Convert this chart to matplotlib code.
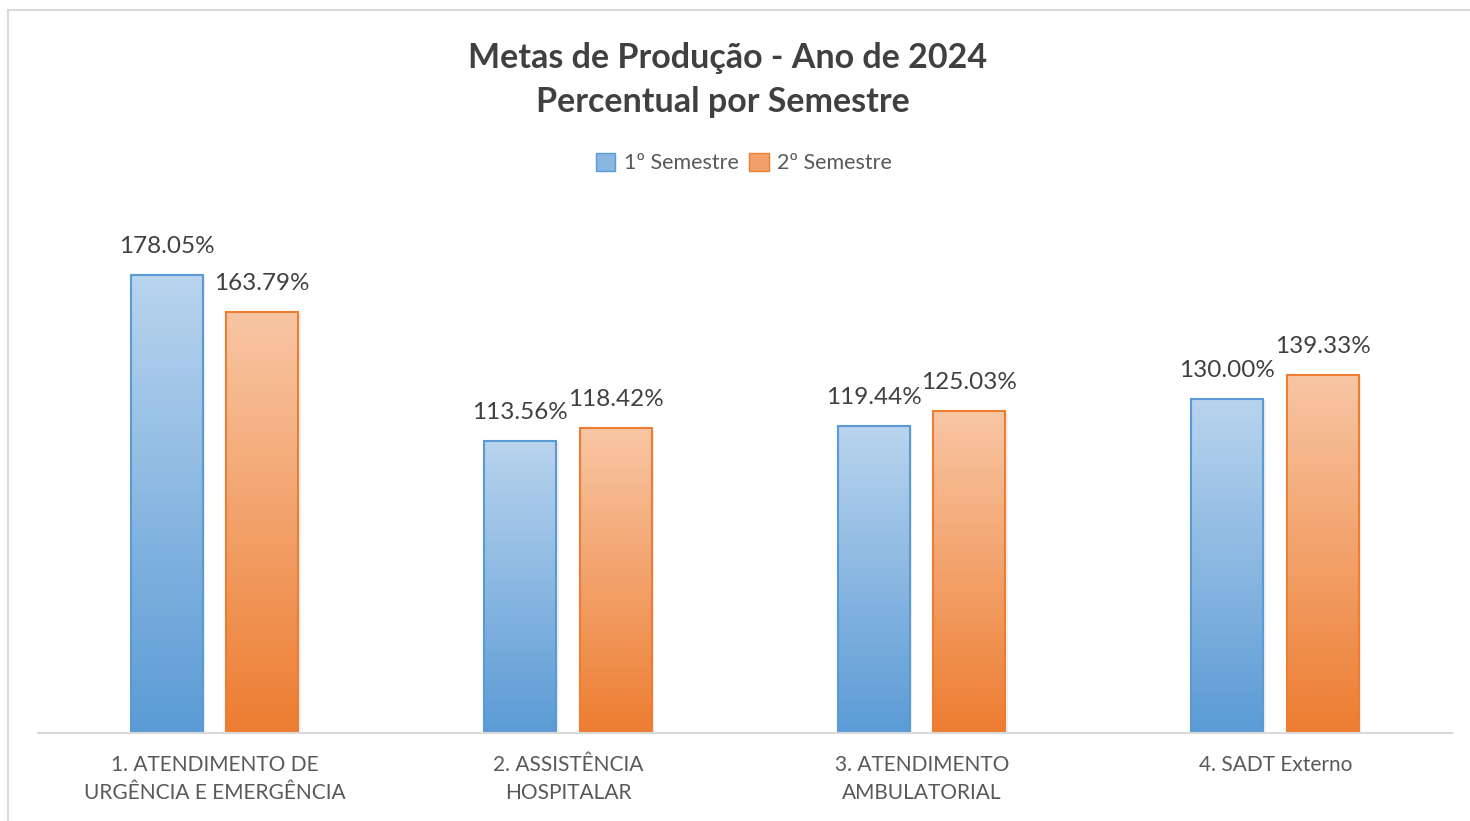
import numpy as np
import matplotlib.pyplot as plt
from matplotlib.colors import LinearSegmentedColormap
from matplotlib.patches import Rectangle

categories = ["1. ATENDIMENTO DE\nURGÊNCIA E EMERGÊNCIA", "2. ASSISTÊNCIA\nHOSPITALAR",
              "3. ATENDIMENTO\nAMBULATORIAL", "4. SADT Externo"]
sem1 = [178.05, 113.56, 119.44, 130.00]
sem2 = [163.79, 118.42, 125.03, 139.33]
series_names = ["1º Semestre", "2º Semestre"]

plt.rcParams['font.family'] = ['Lato', 'DejaVu Sans']

fig = plt.figure(figsize=(14.7, 8.21), dpi=100)
W, H = 1470, 821

# light frame around the chart
fig.patches.append(Rectangle((8 / W, -0.05), 1.1, (821 - 10) / H + 0.05, transform=fig.transFigure,
                             fill=False, edgecolor='#d9d9d9', linewidth=1.5))

ax = fig.add_axes([38 / W, 88 / H, 1414 / W, 514.4 / H])

blue_cm = LinearSegmentedColormap.from_list('b', ['#5b9bd5', '#b9d4ee'])
orange_cm = LinearSegmentedColormap.from_list('o', ['#ed7d31', '#f8c6a4'])
grad = np.linspace(0, 1, 256).reshape(-1, 1)

bw = 0.2037
offs = [-0.1358, 0.1344]
for vals, off, cm, ec in [(sem1, offs[0], blue_cm, '#5b9bd5'), (sem2, offs[1], orange_cm, '#ed7d31')]:
    x = np.arange(len(vals)) + off
    bars = ax.bar(x, vals, width=bw, facecolor='none', edgecolor=ec, linewidth=1.5, zorder=3)
    for b, v in zip(bars, vals):
        x0 = b.get_x()
        # soft shadow
        ax.bar(x0 + bw / 2 + 0.004, v, width=bw + 0.006, bottom=-0.6, color='#000000', alpha=0.06,
               linewidth=0, zorder=1)
        ax.imshow(grad, extent=[x0, x0 + bw, 0, v], origin='lower', aspect='auto', cmap=cm, zorder=2)
        ax.text(x0 + bw / 2, v + 7, f"{v:.2f}%", ha='center', va='bottom', fontsize=17.5, color='#404040')
ax.set_xlim(-0.5, 3.5)
ax.set_ylim(0, 200)

for s in ['top', 'right', 'left']:
    ax.spines[s].set_visible(False)
ax.spines['bottom'].set_color('#d9d9d9')
ax.spines['bottom'].set_linewidth(1.5)
ax.spines['bottom'].set_zorder(4)
ax.set_yticks([])
ax.set_xticks(range(len(categories)))
ax.set_xticklabels(categories, fontsize=15, color='#595959', linespacing=1.5)
ax.tick_params(axis='x', length=0, pad=16)

fig.text(728 / W, 1 - 58 / H, "Metas de Produção - Ano de 2024", ha='center', va='center',
         fontsize=24.5, fontweight='bold', color='#404040')
fig.text(723 / W, 1 - 102 / H, "Percentual por Semestre", ha='center', va='center',
         fontsize=24.5, fontweight='bold', color='#404040')

# legend
handles = [Rectangle((0, 0), 1, 1, facecolor='#8ab6e1', edgecolor='#5b9bd5'),
           Rectangle((0, 0), 1, 1, facecolor='#f3a06a', edgecolor='#ed7d31')]
fig.legend(handles, series_names, loc='center', bbox_to_anchor=(744 / W, 1 - 163 / H), ncol=2,
           frameon=False, fontsize=15.5, labelcolor='#595959', handlelength=0.9, handleheight=0.9,
           handletextpad=0.4, columnspacing=0.5)

fig.savefig('out.png', dpi=100, facecolor='white')
